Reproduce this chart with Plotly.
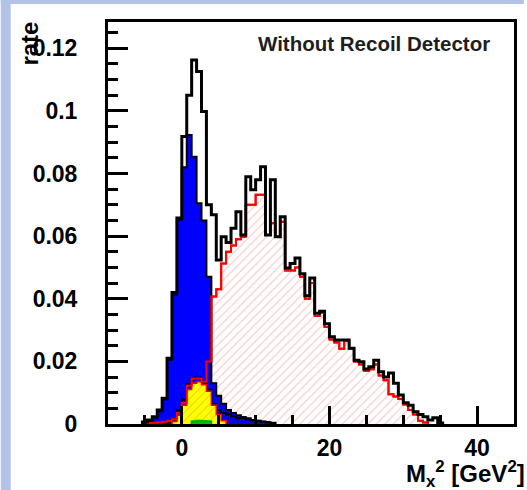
import plotly.graph_objects as go

# ---- binning (ROOT-style histogram, 2/3 GeV^2 bins starting at -10) ----
BIN_LO = -10.0
BIN_W = 2.0 / 3.0

# ---- histogram contents (rate per bin), each with index of its first bin ----
total_start = 7
total = [0.0006, 0.0013, 0.0023, 0.0045, 0.0082, 0.021, 0.042, 0.0658, 0.0918, 0.105,
         0.1163, 0.1126, 0.0998, 0.070, 0.0668, 0.0524, 0.0598, 0.058, 0.0625, 0.0678,
         0.0604, 0.079, 0.0748, 0.078, 0.0822, 0.0604, 0.078, 0.0598, 0.0662, 0.0498,
         0.0513, 0.053, 0.048, 0.041, 0.0466, 0.0354, 0.036, 0.032, 0.0279, 0.0268,
         0.0268, 0.0268, 0.0242, 0.0204, 0.0199, 0.0176, 0.0183, 0.0204, 0.0167, 0.015,
         0.0163, 0.013, 0.0093, 0.0068, 0.006, 0.0039, 0.003, 0.0023, 0.0013, 0.002,
         0.0003]

sidis_start = 7
sidis = [0.0002, 0.0003, 0.0004, 0.0005, 0.0007, 0.001, 0.0015, 0.0035, 0.0068, 0.0122,
         0.0145, 0.0145, 0.0135, 0.020, 0.0407, 0.043, 0.0513, 0.055, 0.057, 0.059,
         0.0598, 0.070, 0.070, 0.0732, 0.0732, 0.0604, 0.0641, 0.0598, 0.0646, 0.049,
         0.049, 0.050, 0.047, 0.040, 0.045, 0.0345, 0.0355, 0.031, 0.027, 0.026,
         0.024, 0.0265, 0.024, 0.020, 0.019, 0.017, 0.0175, 0.019, 0.0155, 0.014,
         0.0095, 0.0088, 0.008, 0.0062, 0.0045, 0.003, 0.001, 0.0005]

excl_start = 7
excl = [0.0004, 0.001, 0.002, 0.0041, 0.0078, 0.0205, 0.0413, 0.0652, 0.082, 0.0923,
        0.0854, 0.0705, 0.065, 0.047, 0.013, 0.009, 0.0065, 0.0045, 0.0035, 0.0028,
        0.0022, 0.0018, 0.0013, 0.001, 0.0008, 0.0005, 0.0003]

tail_start = 12
tail = [0.0005, 0.0015, 0.0045, 0.0078, 0.0128, 0.0148, 0.0148, 0.0135, 0.011, 0.0065,
        0.0045, 0.0035, 0.003, 0.0025, 0.002, 0.0018, 0.0015, 0.0012, 0.001, 0.0008,
        0.0006, 0.0004]

assoc_start = 13
assoc = [0.0008, 0.0028, 0.006, 0.011, 0.013, 0.0135, 0.0125, 0.0105, 0.006, 0.003, 0.001]

green_start = 17
green = [0.0009, 0.001, 0.001, 0.0008]

X_TICKS = [0, 20, 40]
Y_TICKS = [0, 0.02, 0.04, 0.06, 0.08, 0.1, 0.12]
Y_TICK_TEXT = ["0", "0.02", "0.04", "0.06", "0.08", "0.1", "0.12"]


def steps(start, vals):
    xs, ys = [], []
    e = BIN_LO + start * BIN_W
    xs.append(e)
    ys.append(0.0)
    b = e
    for i, v in enumerate(vals):
        a = BIN_LO + (start + i) * BIN_W
        b = a + BIN_W
        xs += [a, b]
        ys += [v, v]
    xs.append(b)
    ys.append(0.0)
    return xs, ys


fig = go.Figure()

# red hatched SIDIS background (fill)
x, y = steps(sidis_start, sidis)
fig.add_trace(go.Scatter(x=x, y=y, mode="lines", line=dict(color="red", width=2),
                         fill="tozeroy", fillcolor="rgba(0,0,0,0)",
                         fillpattern=dict(shape="/", fgcolor="#f39c9c", size=6, solidity=0.2),
                         hoverinfo="skip"))
# blue exclusive
x, y = steps(excl_start, excl)
fig.add_trace(go.Scatter(x=x, y=y, mode="lines", line=dict(color="black", width=2),
                         fill="tozeroy", fillcolor="#0000ff", hoverinfo="skip"))
# dark hatched tail
x, y = steps(tail_start, tail)
fig.add_trace(go.Scatter(x=x, y=y, mode="lines", line=dict(color="black", width=2),
                         fill="tozeroy", fillcolor="rgba(0,0,0,0)",
                         fillpattern=dict(shape="/", fgcolor="#202020", size=6, solidity=0.3),
                         hoverinfo="skip"))
# yellow
x, y = steps(assoc_start, assoc)
fig.add_trace(go.Scatter(x=x, y=y, mode="lines", line=dict(color="red", width=1.5),
                         fill="tozeroy", fillcolor="#ffff00",
                         fillpattern=dict(shape="/", fgcolor="#d06a20", bgcolor="#ffff00",
                                          size=6, solidity=0.15),
                         hoverinfo="skip"))
# red outline again on top
x, y = steps(sidis_start, sidis)
fig.add_trace(go.Scatter(x=x, y=y, mode="lines", line=dict(color="red", width=2),
                         hoverinfo="skip"))
# green
x, y = steps(green_start, green)
fig.add_trace(go.Scatter(x=x, y=y, mode="lines", line=dict(color="#00b000", width=2),
                         fill="tozeroy", fillcolor="#00c000", hoverinfo="skip"))
# total (black outline)
x, y = steps(total_start, total)
fig.add_trace(go.Scatter(x=x, y=y, mode="lines", line=dict(color="black", width=3),
                         hoverinfo="skip"))

L, R, T, B = 108, 10, 22, 66
W, H = 527, 490
pw, ph = W - L - R, H - T - B


def px(xp):
    return (xp - L) / pw


def py(yp):
    return 1 - (yp - T) / ph


BOLD = dict(family="Liberation Sans, Arial, sans-serif", color="black", weight="bold")

fig.update_layout(
    width=W, height=H, autosize=False,
    margin=dict(l=L, r=R, t=T, b=B, pad=0),
    paper_bgcolor="white", plot_bgcolor="white",
    showlegend=False,
    shapes=[
        dict(type="rect", xref="paper", yref="paper", x0=px(0), x1=px(10), y0=py(H), y1=py(0),
             fillcolor="#b3c3e8", line=dict(width=0), layer="below"),
        dict(type="rect", xref="paper", yref="paper", x0=px(0), x1=px(W), y0=py(4), y1=py(0),
             fillcolor="#b3c3e8", line=dict(width=0), layer="below"),
    ],
    annotations=[
        dict(text="Without Recoil Detector", xref="paper", yref="paper", x=px(375.5), y=py(43),
             xanchor="center", yanchor="middle", showarrow=False,
             font=dict(family="Liberation Sans, Arial, sans-serif", size=20.5, color="#1e1e1e",
                       weight="bold")),
        dict(text="rate", xref="paper", yref="paper", x=px(29), y=py(44), textangle=-90,
             xanchor="center", yanchor="middle", showarrow=False, font=dict(size=24, **BOLD)),
        dict(text="M<sub>x</sub><sup>2</sup> [GeV<sup>2</sup>]", xref="paper", yref="paper",
             x=px(530), y=py(474), xanchor="right", yanchor="middle", showarrow=False,
             font=dict(size=24, **BOLD)),
    ],
)

fig.update_xaxes(range=[-10, 45], tickvals=X_TICKS, ticks="inside", ticklen=18, tickwidth=2.5,
                 tickcolor="black", minor=dict(dtick=5, tick0=0, ticks="inside", ticklen=9,
                                               tickwidth=2.5, tickcolor="black"),
                 showline=True, linewidth=3, linecolor="black", mirror=True,
                 showgrid=False, zeroline=False, tickfont=dict(size=23, **BOLD),
                 ticklabelstandoff=1)
fig.update_yaxes(range=[0, 0.1284], tickvals=Y_TICKS, ticktext=Y_TICK_TEXT, ticks="inside",
                 ticklen=20, tickwidth=2.5, tickcolor="black",
                 minor=dict(dtick=0.005, tick0=0, ticks="inside", ticklen=10, tickwidth=2.5,
                            tickcolor="black"),
                 showline=True, linewidth=3, linecolor="black", mirror=True,
                 showgrid=False, zeroline=False, tickfont=dict(size=23, **BOLD),
                 ticklabelstandoff=23)

fig.write_html("out.html")
